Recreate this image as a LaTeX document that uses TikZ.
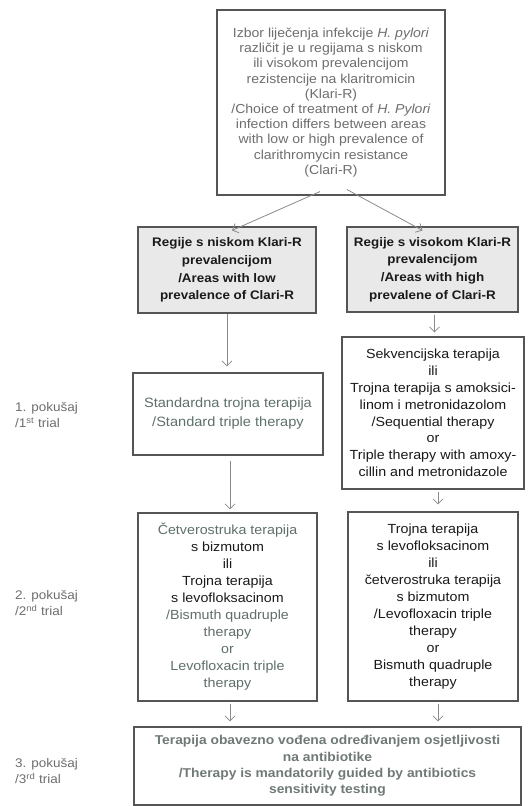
\documentclass[tikz,border=0pt]{standalone}
\usepackage{fontspec}
\setmainfont{Liberation Sans}[FakeStretch=1.08]
\usetikzlibrary{arrows.meta}
\definecolor{gtext}{HTML}{6E6E6E}
\definecolor{ttext}{HTML}{5F706C}
\definecolor{btext}{HTML}{6F7A76}
\definecolor{ktext}{HTML}{1A1A1A}
\definecolor{bordc}{HTML}{555555}
\definecolor{regfill}{HTML}{E9E9E9}
\definecolor{arrc}{HTML}{8A8A8A}
\newcommand{\fsz}[2]{\fontsize{#1}{#2}\selectfont}
\tikzset{
  box/.style={draw=bordc, line width=1.1pt, fill=white, inner sep=0pt, align=center, text=ktext},
  regbox/.style={box, fill=regfill, font=\bfseries\fsz{12.4}{17.7}},
  arr/.style={draw=arrc, line width=0.8pt, -{Straight Barb[length=5pt,width=10pt]}},
  side/.style={anchor=west, align=left, text=gtext, font=\fsz{12.5}{16}, inner sep=0pt}
}
\begin{document}
\begin{tikzpicture}[x=1pt, y=-1pt]
\useasboundingbox[fill=white] (0,0) rectangle (530,806);

\node[box, minimum width=228pt, minimum height=185pt, text=gtext, font=\fsz{13}{15.2}] (top) at (331,102.5)
 {Izbor liječenja infekcije \textit{H. pylori}\\ različit je u regijama s niskom\\ ili visokom prevalencijom\\ rezistencije na klaritromicin\\ (Klari-R)\\ /Choice of treatment of \textit{H. Pylori}\\ infection differs between areas\\ with low or high prevalence of\\ clarithromycin resistance\\ (Clari-R)};

\node[regbox, minimum width=178pt, minimum height=86pt] (low) at (227,270)
 {Regije s niskom Klari-R\\ prevalencijom\\ /Areas with low\\ prevalence of Clari-R};
\node[regbox, minimum width=171pt, minimum height=85pt] (high) at (432.5,269.5)
 {Regije s visokom Klari-R\\ prevalencijom\\ /Areas with high\\ prevalene of Clari-R};

\node[box, minimum width=190pt, minimum height=82pt, text=ttext, font=\fsz{13.5}{19}] (std) at (228,414)
 {Standardna trojna terapija\\ /Standard triple therapy};
\node[box, minimum width=182pt, minimum height=152pt, font=\fsz{13.2}{16.8}] (seq) at (433,413)
 {Sekvencijska terapija\\ ili\\ Trojna terapija s amoksici-\\ linom i metronidazolom\\ /Sequential therapy\\ or\\ Triple therapy with amoxy-\\ cillin and metronidazole};

\node[box, minimum width=179pt, minimum height=188pt, font=\fsz{13.2}{17}] (left2) at (227.5,607)
 {\textcolor{ttext}{Četverostruka terapija}\\ s bizmutom\\ ili\\ Trojna terapija\\ s levofloksacinom\\ \textcolor{ttext}{/Bismuth quadruple}\\ \textcolor{ttext}{therapy}\\ \textcolor{ttext}{or}\\ \textcolor{ttext}{Levofloxacin triple}\\ \textcolor{ttext}{therapy}};
\node[box, minimum width=170pt, minimum height=189pt, font=\fsz{13.2}{17}] (right2) at (433,606.5)
 {Trojna terapija\\ s levofloksacinom\\ ili\\ četverostruka terapija\\ s bizmutom\\ /Levofloxacin triple\\ therapy\\ or\\ Bismuth quadruple\\ therapy};

\node[box, minimum width=387pt, minimum height=78pt, text=btext, font=\bfseries\fsz{12.8}{16.2}] (bottom) at (327.5,766)
 {Terapija obavezno vođena određivanjem osjetljivosti\\ na antibiotike\\ /Therapy is mandatorily guided by antibiotics\\ sensitivity testing};

\node[side] (t1) at (15,415) {1. pokušaj\\ /1\textsuperscript{st} trial};
\node[side] (t2) at (15,603) {2. pokušaj\\ /2\textsuperscript{nd} trial};
\node[side] (t3) at (15,771) {3. pokušaj\\ /3\textsuperscript{rd} trial};

\draw[arr] ([xshift=-11pt,yshift=4pt]top.south) -- ([xshift=5pt,yshift=-4pt]low.north);
\draw[arr] ([xshift=16pt,yshift=6pt]top.south) -- ([xshift=-10pt,yshift=-4pt]high.north);
\draw[arr, shorten >=6pt] (low.south) -- (low.south |- std.north);
\draw[arr, shorten <=2pt, shorten >=4pt] ([xshift=2pt]high.south) -- ([xshift=2pt]high.south |- seq.north);
\draw[arr, shorten <=5pt, shorten >=3pt] ([xshift=2pt]std.south) -- ([xshift=2pt]std.south |- left2.north);
\draw[arr, shorten <=2pt, shorten >=7pt] ([xshift=5pt]seq.south) -- ([xshift=5pt]seq.south |- right2.north);
\draw[arr, shorten <=2pt, shorten >=5pt] ([xshift=2.5pt]left2.south) -- ([xshift=2.5pt]left2.south |- bottom.north);
\draw[arr, shorten <=2pt, shorten >=5pt] ([xshift=5pt]right2.south) -- ([xshift=5pt]right2.south |- bottom.north);
\end{tikzpicture}
\end{document}
